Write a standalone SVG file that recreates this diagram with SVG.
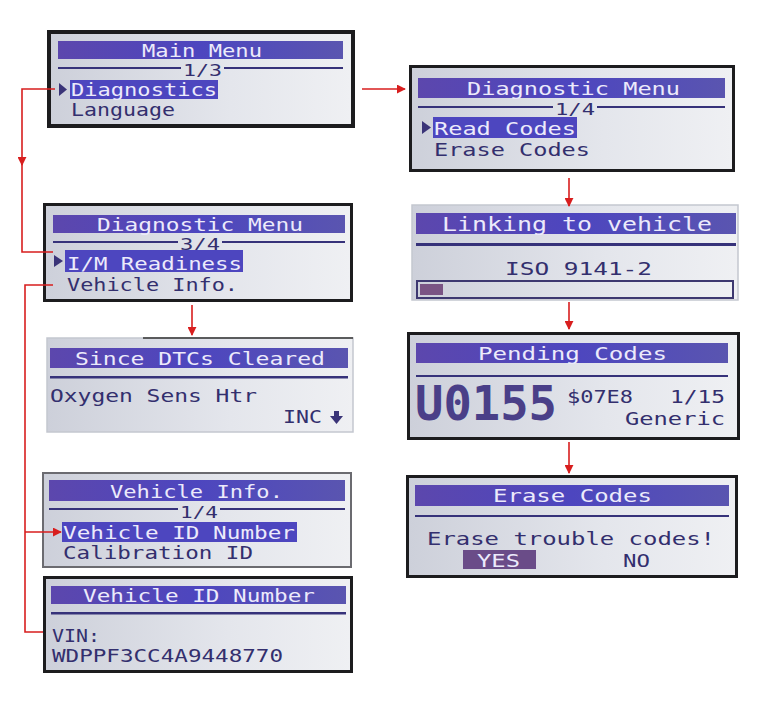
<svg xmlns="http://www.w3.org/2000/svg" width="760" height="704" viewBox="0 0 760 704">
<defs>
<linearGradient id="lcdg" x1="0" y1="0" x2="1" y2="0">
<stop offset="0" stop-color="#cdd0da"/>
<stop offset="0.6" stop-color="#e4e6ec"/>
<stop offset="1" stop-color="#eff0f3"/>
</linearGradient>
<linearGradient id="barg" x1="0" y1="0" x2="1" y2="0">
<stop offset="0" stop-color="#5c47ad"/>
<stop offset="0.5" stop-color="#4d46bf"/>
<stop offset="1" stop-color="#5a55b0"/>
</linearGradient>
<marker id="ah" viewBox="0 0 10 10" refX="9" refY="5" markerWidth="9" markerHeight="9" markerUnits="userSpaceOnUse" orient="auto">
<path d="M0,0 L10,5 L0,10 z" fill="#d81e1e"/>
</marker>
<style>
.frame{fill:#1c1c1e}
.light{fill:url(#lcdg);stroke:#c4c7cf;stroke-width:1.5}
.lcd{fill:url(#lcdg)}
.bar{fill:url(#barg)}
.hl{fill:#4d46bf}
.t{font-family:"DejaVu Sans Mono","Liberation Mono",monospace;font-size:18px}
.s{font-size:15px}
.h{font-size:17px}
.w{fill:#eceafb}
.d{fill:#332f6e}
.div{stroke:#36327a;stroke-width:2;fill:none}
.cur{fill:#3a3478}
.c{stroke:#d81e1e;stroke-width:1.6;fill:none}
</style>
</defs>
<rect width="760" height="704" fill="#ffffff"/>

<g id="main-menu">
<rect class="frame" x="47" y="30" width="308" height="98"/>
<rect class="lcd" x="51" y="34" width="300" height="90"/>
<rect class="bar" x="58" y="41" width="285" height="18"/>
<text class="t w" x="142" y="57" textLength="120" lengthAdjust="spacingAndGlyphs">Main Menu</text>
<path class="div" d="M58,68 H181 M224,68 H343"/>
<text class="t s d" x="183" y="76" textLength="39" lengthAdjust="spacingAndGlyphs">1/3</text>
<polygon class="cur" points="59,83 67,89.5 59,96"/>
<rect class="hl" x="70" y="80" width="148" height="19"/>
<text class="t h w" x="71" y="96" textLength="146" lengthAdjust="spacingAndGlyphs">Diagnostics</text>
<text class="t h d" x="71" y="116" textLength="104" lengthAdjust="spacingAndGlyphs">Language</text>
</g>

<g id="diagnostic-menu-1">
<rect class="frame" x="409" y="65" width="326" height="107"/>
<rect class="lcd" x="412" y="68" width="320" height="101"/>
<rect class="bar" x="418" y="78" width="307" height="20"/>
<text class="t w" x="467" y="95" textLength="213" lengthAdjust="spacingAndGlyphs">Diagnostic Menu</text>
<path class="div" d="M418,107 H553 M597,107 H725"/>
<text class="t s d" x="555" y="115" textLength="40" lengthAdjust="spacingAndGlyphs">1/4</text>
<polygon class="cur" points="422,121 431,127.5 422,134"/>
<rect class="hl" x="433" y="117" width="144" height="21"/>
<text class="t h w" x="434" y="135" textLength="142" lengthAdjust="spacingAndGlyphs">Read Codes</text>
<text class="t d" x="434" y="156" textLength="156" lengthAdjust="spacingAndGlyphs">Erase Codes</text>
</g>

<g id="diagnostic-menu-3">
<rect class="frame" x="43" y="203" width="310" height="99"/>
<rect class="lcd" x="46" y="206" width="304" height="93"/>
<rect class="bar" x="53" y="215" width="292" height="18"/>
<text class="t w" x="97" y="231" textLength="206" lengthAdjust="spacingAndGlyphs">Diagnostic Menu</text>
<path class="div" d="M53,242 H178 M222,242 H345"/>
<text class="t s d" x="180" y="250" textLength="40" lengthAdjust="spacingAndGlyphs">3/4</text>
<polygon class="cur" points="54,255 63,261 54,267"/>
<rect class="hl" x="65" y="250" width="178" height="22"/>
<text class="t h w" x="67" y="270" textLength="175" lengthAdjust="spacingAndGlyphs">I/M Readiness</text>
<text class="t h d" x="67" y="291" textLength="171" lengthAdjust="spacingAndGlyphs">Vehicle Info.</text>
</g>

<g id="linking">
<rect class="light" x="412" y="205" width="326" height="95"/>
<rect class="bar" x="416" y="213" width="320" height="21"/>
<text class="t w" x="442" y="231" style="font-size:20px" textLength="270" lengthAdjust="spacingAndGlyphs">Linking to vehicle</text>
<rect x="416" y="243" width="320" height="3" fill="#36327a"/>
<text class="t d" x="505" y="275" textLength="147" lengthAdjust="spacingAndGlyphs">ISO 9141-2</text>
<rect x="417" y="281" width="316" height="17" fill="none" stroke="#3d3870" stroke-width="2"/>
<rect x="420" y="284" width="23" height="11" fill="#7a5484"/>
</g>

<g id="since-dtcs-cleared">
<rect class="light" x="47" y="338" width="306" height="94"/>
<path d="M143,338 H353" stroke="#333" stroke-width="1.5"/>
<rect class="bar" x="50" y="348" width="298" height="20"/>
<text class="t w" x="75" y="365" textLength="250" lengthAdjust="spacingAndGlyphs">Since DTCs Cleared</text>
<rect x="50" y="376" width="298" height="2.5" fill="#36327a"/>
<text class="t d" x="50" y="402" textLength="207" lengthAdjust="spacingAndGlyphs">Oxygen Sens Htr</text>
<text class="t d" x="283" y="423" textLength="39" lengthAdjust="spacingAndGlyphs">INC</text>
<polygon class="cur" points="334,411 339,411 339,416 343,416 336.5,424 330,416 334,416"/>
</g>

<g id="pending-codes">
<rect class="frame" x="407" y="332" width="333" height="108"/>
<rect class="lcd" x="410" y="335" width="327" height="102"/>
<rect class="bar" x="416" y="343" width="312" height="20"/>
<text class="t w" x="478" y="360" textLength="189" lengthAdjust="spacingAndGlyphs">Pending Codes</text>
<path class="div" d="M416,376 H728"/>
<text class="t" x="415" y="420" style="font-size:48px;font-weight:bold;fill:#4a3f88" textLength="142" lengthAdjust="spacingAndGlyphs">U0155</text>
<text class="t d" x="567" y="403" textLength="66" lengthAdjust="spacingAndGlyphs">$07E8</text>
<text class="t d" x="670" y="403" textLength="55" lengthAdjust="spacingAndGlyphs">1/15</text>
<text class="t d" x="625" y="425" textLength="100" lengthAdjust="spacingAndGlyphs">Generic</text>
</g>

<g id="erase-codes">
<rect class="frame" x="406" y="475" width="332" height="103"/>
<rect class="lcd" x="409" y="478" width="326" height="97"/>
<rect class="bar" x="415" y="485" width="314" height="21"/>
<text class="t w" x="493" y="502" textLength="159" lengthAdjust="spacingAndGlyphs">Erase Codes</text>
<path class="div" d="M415,516 H729"/>
<text class="t d" x="427" y="545" textLength="288" lengthAdjust="spacingAndGlyphs">Erase trouble codes!</text>
<rect x="463" y="550" width="73" height="19" fill="#6a4c88"/>
<text class="t w" x="477" y="567" textLength="43" lengthAdjust="spacingAndGlyphs">YES</text>
<text class="t d" x="623" y="567" textLength="27" lengthAdjust="spacingAndGlyphs">NO</text>
</g>

<g id="vehicle-info">
<rect x="42" y="472" width="310" height="96" fill="#6b6b70"/>
<rect class="lcd" x="44" y="474" width="306" height="92"/>
<rect class="bar" x="49" y="480" width="296" height="21"/>
<text class="t w" x="110" y="498" textLength="173" lengthAdjust="spacingAndGlyphs">Vehicle Info.</text>
<path class="div" d="M49,509 H178 M220,509 H345"/>
<text class="t s d" x="180" y="518" textLength="38" lengthAdjust="spacingAndGlyphs">1/4</text>
<rect class="hl" x="62" y="522" width="235" height="20"/>
<text class="t h w" x="63" y="539" textLength="232" lengthAdjust="spacingAndGlyphs">Vehicle ID Number</text>
<text class="t h d" x="63" y="559" textLength="190" lengthAdjust="spacingAndGlyphs">Calibration ID</text>
</g>

<g id="vehicle-id-number">
<rect class="frame" x="43" y="576" width="310" height="97"/>
<rect class="lcd" x="46" y="579" width="304" height="91"/>
<rect class="bar" x="51" y="586" width="295" height="18"/>
<text class="t w" x="83" y="602" textLength="232" lengthAdjust="spacingAndGlyphs">Vehicle ID Number</text>
<rect x="51" y="612" width="295" height="2.5" fill="#36327a"/>
<text class="t d" x="52" y="642" textLength="48" lengthAdjust="spacingAndGlyphs">VIN:</text>
<text class="t d" x="52" y="662" textLength="231" lengthAdjust="spacingAndGlyphs">WDPPF3CC4A9448770</text>
</g>

<g id="connectors">
<path class="c" d="M362,89 H405" marker-end="url(#ah)"/>
<path class="c" d="M55,89 H22 V165" marker-end="url(#ah)"/>
<path class="c" d="M22,160 V252 H53"/>
<path class="c" d="M53,285 H25 V632 H43"/>
<path class="c" d="M25,532 H61" marker-end="url(#ah)"/>
<path class="c" d="M192,305 V335" marker-end="url(#ah)"/>
<path class="c" d="M569,178 V206" marker-end="url(#ah)"/>
<path class="c" d="M569,302 V329" marker-end="url(#ah)"/>
<path class="c" d="M569,442 V473" marker-end="url(#ah)"/>
</g>
</svg>
